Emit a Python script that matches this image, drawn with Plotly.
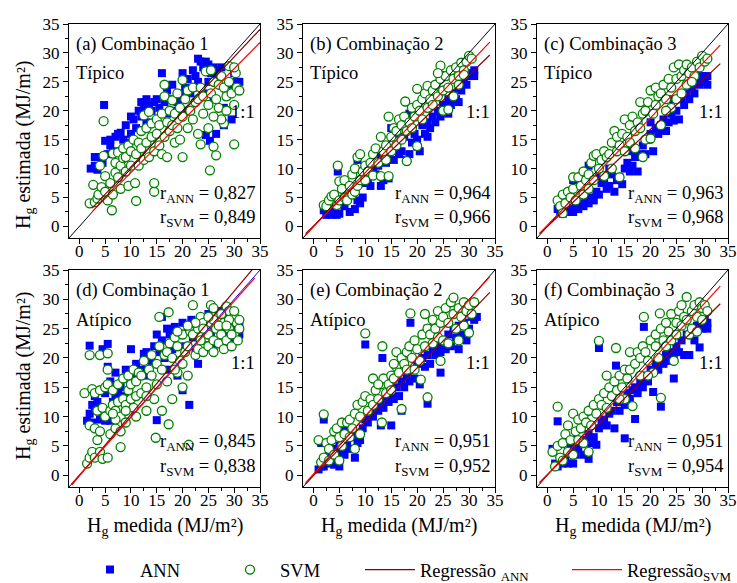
import plotly.graph_objects as go

# ---------------- data ----------------
panel_labels = ["(a) Combinação 1", "(b) Combinação 2", "(c) Combinação 3",
                "(d) Combinação 1", "(e) Combinação 2", "(f) Combinação 3"]
panel_types = ["Típico", "Típico", "Típico", "Atípico", "Atípico", "Atípico"]
r_ann = ["0,827", "0,964", "0,963", "0,845", "0,951", "0,951"]
r_svm = ["0,849", "0,966", "0,968", "0,838", "0,952", "0,954"]

ann_a = [(2.2,10),(3,10.5),(3.5,9.8),(4,12),(4.5,11),(4.8,21),(5,14.8),(5.5,12.5),(6,14),(6.5,13),
         (7,15.5),(7.5,16),(8,16.2),(8,13),(8.5,15),(9,17.5),(9.5,14.5),(10,19),(10,16),(10.5,18.5),
         (11,17),(11.5,20),(12,21.5),(12,19),(12.5,20.5),(13,22),(13,18),(13.5,21),(14,20),(14.5,21.5),
         (15,18),(15,22),(15.5,20.5),(16,26.5),(16.5,21.5),(17,23.5),(17,19.5),(17.5,22),(18,24.5),(18.5,20),
         (19,21.5),(19.5,23),(20,26.5),(20,22),(20.5,24),(21,25.5),(21,20),(21.5,23),(22,24),(22,27),
         (22.5,26),(23,29),(23,25),(23.5,28.5),(24,27.5),(24,23),(24.5,28.5),(25,28),(25,25),(25.5,26.5),
         (26,27.5),(26,22),(26.5,26.5),(26.5,16),(27,25.5),(27,27),(27.5,27.5),(28,17.5),(28,20.5),(28.5,22.5),
         (29,24.5),(29.5,18.5),(30,26.5),(30,27),(30.5,25),(31,25),(24.5,15.8),(25.3,14.8),(3,12),(6,15)]
svm_a = [(2,4),(2.7,7.2),(3,4.2),(3.5,4.8),(3.7,5.5),(4,10.5),(4.3,6.8),(4.7,12.2),(4.7,18.2),(5,8.7),
         (5,6),(5.5,4.5),(6,7.5),(6.3,2.8),(6.5,12.6),(6.5,5.5),(7,9.3),(7,11),(7.5,8.5),(7.5,12.8),
         (8,10.5),(8,6.5),(8.5,11.8),(8.5,13.5),(9,9.5),(9,12),(9.5,14),(9.5,7),(10,13),(10,10.5),
         (10.5,15),(10.8,7.5),(11,4.4),(11,12.5),(11.5,14.5),(11.5,10.5),(12,16.5),(12,13.5),(12.5,19.2),(12.5,11.5),
         (13,17),(13,14.5),(13.5,19.8),(13.5,12),(14,15.5),(14,17.8),(14.5,6),(14.5,7.5),(14.5,13),(15,16),
         (15,18.5),(15.5,14),(15.5,17.5),(16,19.5),(16,12.5),(16.5,24.5),(16.5,22.5),(16.5,15.5),(17,18),(17,12),
         (17.5,20),(17.5,16.5),(18,21.8),(18,17.5),(18.5,14.5),(18.5,19.5),(19,23),(19,17),(19.5,20.5),(19.5,15),
         (20,25.3),(20,12),(20,19),(20.5,22),(21,23.5),(21,17),(21.5,20),(22,24),(22,18.5),(22.5,21.5),
         (23,22),(23,16),(23.5,14.2),(23.5,24),(24,22.5),(24,19.5),(24.5,26.8),(25,21),(25,17),(25.3,9.7),
         (25.5,23),(25.5,27),(26,25),(26,13.8),(26.5,22),(26.5,12.3),(27,24.5),(27,20.5),(27.5,26),(28,24),
         (28,17.8),(28.5,22.5),(29,27.7),(29,25),(29.5,23),(30,14.2),(30,21),(30.3,26.5),(30.5,24),(31,23.5),
         (30,27.5),(27.5,18.5),(26,19),(28.5,20)]

ann_b = [(2,2.8),(2.5,2),(3,2.3),(3.5,2),(4,2.5),(4.5,2),(4.7,9.5),(5,2.2),(5.5,4),(6,3.5),
         (6.5,5),(7,2.5),(7.5,5.5),(8,3),(8.5,4.5),(9,4),(9.5,5),(8.5,11.5),(10,7.5),(10.5,8),
         (11,7),(11.5,10),(12,9),(12.5,10.5),(13,7),(13.5,8),(14,11),(14.5,8.3),(14.5,12.5),(15,17),
         (15.5,11.5),(16,14),(16.5,12.5),(17,13),(17.5,15.5),(18,11.5),(18.5,12.5),(18.5,19.5),(19,14.5),(19.5,16),
         (20,15),(20.5,13),(21,17.5),(21.5,16),(22,18),(22.5,17),(23,19),(23.5,18),(24,20),(24.5,26.2),
         (24.5,19),(25,21),(25.5,20),(26,22),(26.5,21),(27,23),(27.5,22),(28,24),(28.5,23.5),(29,25),
         (29.5,24.5),(30,26),(30.5,26.5),(31,27),(31,26),(16,16),(13,12),(10.5,9.5),(22,15.5),(26,19.5),
         (28,21.5),(20,13.8)]
svm_b = [(2,3.7),(2.5,3.5),(3,4.5),(3.5,5.2),(4,5.5),(4.5,3.7),(4.7,10.5),(5,7.8),(5,4.5),(5.5,6.5),
         (6,8),(6,5),(6.5,4.5),(7,7),(7.5,9),(7.5,5.5),(8,6),(8,10),(8.5,12),(8.5,7),
         (9,12.5),(9,8),(9.5,9.5),(10,10.5),(10,8),(10.5,9.5),(11,11),(11.5,12.5),(11.5,8.8),(12,13.5),
         (12.5,11),(13,8.7),(13,15.5),(13.5,13),(14,14),(14,11.5),(14.5,19),(14.5,8.7),(15,15.5),(15,13),
         (15.5,17),(16,16.5),(16,14),(16.5,18.5),(17,15),(17,17.5),(17.5,19),(17.7,21.6),(18,11.3),(18,16.5),
         (18.5,18),(19,20.5),(19,17),(19.5,19),(20,23.8),(20,13.9),(20,21),(20.5,20),(21,22),(21,18.5),
         (21.5,23),(22,24.3),(22,20.5),(22.5,22),(23,23.5),(23,21),(23.5,24.5),(24,22.5),(24.5,27.8),(24.5,25.5),
         (25,23.5),(25,20),(25.5,26),(26,24),(26,20.2),(26.5,27),(27,25.5),(27,22.5),(27.5,27.5),(28,26),
         (28.5,28.3),(29,27),(29.5,28.5),(30,29.5),(30.5,29),(29,26.2),(28,24.5),(24,26.5)]

ann_c = [(2,3),(2.5,2.5),(3,2.2),(3.5,3),(4,2.5),(4.5,3),(5,2.5),(5,8),(5.5,3.5),(6,3),
         (6.5,4),(7,3.5),(7.5,4.5),(8,4),(8,10.5),(8.5,5),(9,4.5),(9.5,6),(10,5.5),(10.5,7.5),
         (11,8),(11.5,6.5),(12,7),(12.5,9),(13,6),(13.5,8),(14,8.5),(14.5,7.3),(15,10),(15.5,11),
         (16,9.5),(16.5,10.5),(17,12),(17.5,9.5),(18,12.5),(18.5,14),(19,12.5),(19.5,15),(20,16),(20.5,13),
         (21,17),(21.5,16),(22,17.5),(22.5,18.5),(23,16.5),(23.5,18),(24,19.5),(24.5,18.3),(25,20),(25.5,18.5),
         (26,22),(26.5,21),(27,23),(27.5,22),(28,24),(28.5,23),(29,25),(29.5,24.5),(30,26),(30.5,25),
         (31,26),(31,24.5),(12,10),(16,13),(20,18),(24,22),(28,26),(10,8.5)]
svm_c = [(2,4.5),(2.5,3.5),(3,2.3),(3,5.5),(3.5,4),(4,6),(4.5,5),(5,8.5),(5,6.5),(5.5,4.5),
         (6,8.5),(6.5,7),(7,5.5),(7,9.5),(7.5,8),(8,9),(8,6.5),(8.5,11),(9,12.2),(9,8),
         (9.5,12.5),(10,10),(10.5,11.5),(11,8.7),(11,13),(11.5,12),(12,12.5),(12.5,10),(12.5,14.5),(13,16.5),
         (13.5,13),(13.5,15.5),(14,8.5),(14,14),(14.5,16),(15,18.5),(15,13),(15.5,15.5),(16,17.5),(16,14.5),
         (16.5,19),(17,16.5),(17.5,18),(18,21.5),(18,17),(18.5,12),(18.5,19.5),(19,20),(19,15),(19.5,21.5),
         (20,23.5),(20,15.2),(20.5,19.5),(21,24),(21,21),(21.5,22.5),(22,23),(22,17.5),(22.5,24.5),(23,22),
         (23.5,25.5),(24,24),(24,20.5),(24.5,27.5),(25,25.5),(25,22),(25.5,28),(26,26),(26,23),(26.5,27),
         (27,24.5),(27,28),(27.5,26.5),(28,27.5),(28.5,26),(29,28.5),(29.5,27.5),(30,29.5),(30.5,28.5),(31,29),
         (28,25),(23,20),(17,13.5)]

ann_d = [(1.5,9.3),(2,22.1),(2,10.5),(2.5,9),(2.5,12),(3,11),(3,13.5),(3.5,12.5),(4,9.5),(4,11.5),
         (4.5,21.5),(4.5,10),(5,14),(5,9.3),(5.5,22.4),(5.5,18.5),(6,9.3),(6,16),(6.5,12.5),(7,13),
         (7,17.5),(7.5,14),(8,15),(8.5,16.5),(9,18),(9,13.5),(10,21.5),(10,16),(11,17),(11,19),
         (12,18),(12.5,20.7),(13,17),(13,21),(14,19.5),(14.5,22),(15,24),(15,9.4),(15.5,21),(16,27),
         (16,23),(16.5,20),(17,25),(17.3,18),(17.5,24),(18,21.5),(18.5,25.3),(19,17),(19.5,24),(20,14.5),
         (20,26),(20.5,22),(21,25),(21.3,12),(21.7,26.5),(22,23.5),(22.5,21),(23,25.5),(23,19),(24,26),
         (24.5,23),(25,27.5),(25.5,24),(26,25.5),(26.5,22.5),(27,28),(27.5,26),(28,24.5),(28.5,27),(29,27.5),
         (29.5,23),(30,25),(30.5,26.5),(31,26),(31,24),(28,22),(26,21.5)]
svm_d = [(1,14),(1.5,2),(2,3),(2,20.5),(2,8.5),(2.5,14.7),(2.5,4),(3,14),(3,8),(3,3),
         (3.5,6),(3.5,11),(4,14.5),(4,20.5),(4,4),(4,7.5),(4.5,11.5),(4.5,2.8),(5,10),(5,15),
         (5.5,15.5),(5.5,20.8),(5.5,18),(5.5,3),(6,11),(6,7),(6.5,12),(6.5,14.5),(7,11),(7,8),
         (7.5,12.5),(7.5,15.5),(8,10),(8,4.8),(8,7.5),(8.5,13),(8.5,16.5),(9,12),(9,9),(9.5,14.5),
         (9.5,17),(10,13),(10,15.5),(10.5,11.5),(10.5,18),(11,16),(11,13.5),(11.5,17.5),(12,17),(12,14),
         (12.5,19.5),(13,15),(13,11),(13.5,18),(14,17),(14,20.5),(14.5,13),(14.8,6.4),(15,19),(15,15.5),
         (15.5,27),(15.5,22),(16,18),(16,11),(16.5,20.5),(17,21),(17,16),(17.3,27.8),(17.3,8.7),(17.5,22.5),
         (18,20),(18,13),(18.5,23.5),(19,22),(19,17.5),(19.5,19.5),(20,24),(20,15),(20.5,21),(21,22),
         (21,17),(21.2,5.2),(21.5,24.5),(22,29),(22,24),(22.5,20.5),(23,25),(23,21.5),(23.5,27),(24,26),
         (24,21),(24.5,23.5),(25,24),(25,22),(25.5,29),(25.5,26),(26,28.5),(26,23),(26.5,25),(27,27),
         (27,22.5),(27.5,24),(28,26),(28,21.5),(28.5,28.8),(28.5,23),(29,28),(29,25),(29.5,22),(30,27),
         (30,24),(30.5,26),(30.7,23),(31,25),(26,21),(23.5,23),(20,19),(18.5,18),(13,13.5),(11,10),
         (9,11),(7,9.5),(6.5,10.5),(24,25),(26,26.5),(27,25.5),(29,26.5),(30,28),(31,26.5),(28.5,25.5),
         (25,27),(22.5,26),(21,25.5),(19,24.5),(27.5,27.5),(29.5,24)]

ann_e = [(1,1),(1.5,1.5),(1.5,5.5),(2,1.5),(2,9.5),(2.5,3),(3,2),(3,4),(3.5,2.5),(4,1.8),
         (4,4.5),(4.5,3),(5,1.5),(5,5),(5.5,4),(6,3.5),(6,8),(6.5,5),(7,4.5),(7.5,6.5),
         (8,3),(8,7),(8.5,5.5),(9,6),(9.5,8),(10,22.3),(10,9.5),(10.5,9),(11,10.5),(11.5,10),
         (12,12),(12.5,11),(13,8.5),(13,12.5),(13.3,20),(13.5,11.5),(14,13.5),(14.5,12.5),(15,8.5),(15,14),
         (15.5,13),(16,15),(16.5,13.5),(17,11),(17,16),(17.5,15),(18,17),(18.5,16),(18.7,26),(19,18),
         (19.5,16.5),(20,19),(20.5,15.5),(21,20),(21.5,18.5),(22,12.2),(22,25),(22,20.5),(22.5,19),(23,21.5),
         (23.5,20.5),(24,22),(24.5,17.5),(24.5,21),(25,23),(25.5,21.5),(26,24),(26.5,22),(27,25),(27.5,23.5),
         (28,21.5),(28,25.5),(28.5,24),(29,26),(29.5,23),(30,25),(30.5,27),(31,26.5),(31.5,27)]
svm_e = [(1,6),(1.5,2.2),(2,10.4),(2,3),(2.5,5.5),(3,4.5),(3,2.5),(3.5,6),(4,3.5),(4,7.5),
         (4.5,8),(5,2.5),(5,6.5),(5.5,9),(5.5,5),(6,7),(6.5,9),(7,6.5),(7,9.5),(7.5,8),
         (8,4.5),(8,10.5),(8.5,12),(9,10),(9,7),(9.5,12.5),(10,24.2),(10,13.5),(10.5,11),(11,13),
         (11.5,16.5),(11.5,12),(12,14.5),(12.5,13),(13,15.5),(13.2,9),(13.3,22),(13.5,16.5),(14,14),(14.5,15.5),
         (15,17),(15,14.5),(15.5,16.5),(16,18.5),(16,21),(16.5,17.5),(17,11.3),(17,20),(17.5,19),(18,21),
         (18,18),(18.5,22),(18.7,27.6),(19,20),(19.5,23),(20,21.5),(20.5,19.5),(20.7,16.3),(21,24),(21.5,27.5),
         (21.5,22),(22,13.3),(22,25),(22.5,24),(23,26.5),(23,22.5),(23.5,25),(24,28),(24,23.5),(24.5,19.5),
         (24.5,26),(25,27),(25,23),(25.5,28.5),(26,26),(26,22.5),(26.5,29.5),(27,27.5),(27,30.3),(27.5,25),
         (28,28.5),(28,23),(28.5,27),(29,29.5),(29,25.5),(29.5,28),(30,29),(30,24.3),(30.5,27.5),(31,29.5),
         (19.5,18),(15.5,19),(12.5,15.5)]

ann_f = [(1,4.5),(1.5,2),(2,9.2),(2,1.5),(2.5,3),(3,2),(3.5,2.5),(4,4),(4,2),(4.5,5),
         (5,2),(5,6),(5.5,3.5),(6,4.5),(6.5,5.5),(7,3.5),(7.5,6),(8,2.8),(8,7),(8.5,5.5),
         (9,6.5),(9.5,5.2),(10,21.7),(10,8),(10.5,9),(11,9.5),(11.5,8.5),(12,10.5),(12.5,11),(13,8),
         (13.3,18.7),(13.5,12.5),(14,11),(14.5,13),(15,6.3),(15,12),(15.5,14),(16,13),(16.5,14.5),(17,9.6),
         (17,15),(17.5,14),(18,16),(18.5,15),(18.7,25.3),(19,17),(19.5,16),(20,18),(20.5,14.2),(21,19),
         (21.5,18),(22,11.7),(22,20),(22.5,19),(23,20.5),(23.5,19.5),(24,21),(24.5,16.5),(24.5,20),(25,22),
         (25.5,21),(26,23),(26.5,20.5),(27,24),(27.5,20.5),(28,25),(28.5,23),(29,25.5),(29.5,21.8),(30,25),
         (30.5,26.5),(31,26),(31,25)]
svm_f = [(1,4),(1.5,1.5),(2,11.7),(2,5),(2.5,3),(3,5.5),(3,2.5),(3.5,7),(4,4),(4,8.5),
         (4.5,6),(5,10.5),(5,3.5),(5.5,7.5),(6,6),(6,9.5),(6.5,8),(7,10),(7,5.5),(7.5,9),
         (8,4),(8,11),(8.5,8.5),(9,12),(9.5,10.5),(10,22.9),(10,13),(10.5,12),(11,14),(11.5,17),
         (11.5,11.5),(12,15),(12.5,13.5),(13,16),(13.3,21.7),(13.5,14.5),(14,17),(14.5,15),(15,18),(15,13),
         (15.5,16.5),(16,21),(16,18),(16.5,11.8),(17,19),(17.5,21),(18,20),(18,17),(18.5,22),(18.7,27),
         (19,21),(19.5,19.5),(20,23),(20.5,17.5),(21,24),(21,22),(21.5,20),(21.8,27.6),(22,13.2),(22,25),
         (22.5,23),(23,26),(23,22),(23.5,24.5),(24,27.5),(24,23),(24.5,19.5),(25,26),(25,24),(25.5,28),
         (26,25.5),(26,29),(26.5,27),(27,30.4),(27,26.5),(27.5,24),(28,28),(28,25),(28.5,29),(29,27),
         (29,24.5),(29.5,29.5),(30,28.5),(30,26.5),(30.5,29),(31,28),(19.5,17),(14,13)]

# regression lines: (slope, intercept) and x extent of the drawn line
reg_ann = [(0.95, 0.8), (0.87, 0.06), (0.84, 0.0), (1.05, -0.1), (0.92, -0.1), (0.87, 0.1)]
reg_svm = [(0.90, 0.3), (0.94, -0.1), (0.93, 0.2), (0.99, 0.0), (0.99, 0.2), (0.96, 0.1)]
reg_span = [(2.5, 35.0), (-1.5, 34.0), (-1.5, 33.5), (-1.5, 34.0), (-1.5, 34.0), (-1.5, 33.5)]
line_11 = [-2, 35]
ticks = [0, 5, 10, 15, 20, 25, 30, 35]

ann_all = [ann_a, ann_b, ann_c, ann_d, ann_e, ann_f]
svm_all = [svm_a, svm_b, svm_c, svm_d, svm_e, svm_f]

# ---------------- figure ----------------
W, H = 737, 583
FONT = "Liberation Serif, Times New Roman, Times, serif"
xd = [(69, 260), (303, 495), (537, 728)]
yd = [(24, 238), (270, 487)]
one_to_one_colors = ["black", "black", "black", "blue", "black", "black"]

fig = go.Figure()
layout = {}
annotations = []
for i in range(6):
    r, c = divmod(i, 3)
    sfx = "" if i == 0 else str(i + 1)
    xa, ya = "x" + sfx, "y" + sfx
    axis_common = dict(range=[-2, 35], tickvals=ticks, ticks="outside", ticklen=5,
                       tickwidth=1, tickcolor="black", showline=True, linecolor="black",
                       linewidth=1, mirror=True, showgrid=False, zeroline=False,
                       tickfont=dict(family=FONT, size=17, color="black"),
                       minor=dict(dtick=2.5, tick0=0, ticks="outside", ticklen=3,
                                  tickcolor="black", showgrid=False))
    layout["xaxis" + sfx] = dict(domain=[xd[c][0] / W, xd[c][1] / W], anchor=ya,
                                 ticklabelstandoff=-7, **axis_common)
    layout["yaxis" + sfx] = dict(domain=[1 - yd[r][1] / H, 1 - yd[r][0] / H], anchor=xa,
                                 **axis_common)

    first = (i == 0)
    fig.add_trace(go.Scatter(
        x=[p[0] for p in ann_all[i]], y=[p[1] for p in ann_all[i]], mode="markers",
        marker=dict(symbol="square", size=8, color="#0000FF", line=dict(width=0)),
        name="ANN", legend="legend", showlegend=first, xaxis=xa, yaxis=ya))
    fig.add_trace(go.Scatter(
        x=[p[0] for p in svm_all[i]], y=[p[1] for p in svm_all[i]], mode="markers",
        marker=dict(symbol="circle", size=9, color="white", line=dict(width=1.3, color="#008000")),
        name="SVM", legend="legend2", showlegend=first, xaxis=xa, yaxis=ya))
    fig.add_trace(go.Scatter(
        x=line_11, y=line_11, mode="lines", line=dict(color=one_to_one_colors[i], width=1),
        showlegend=False, xaxis=xa, yaxis=ya, hoverinfo="skip"))
    x0, x1 = reg_span[i]
    ma, ba = reg_ann[i]
    ms, bs = reg_svm[i]
    fig.add_trace(go.Scatter(
        x=[x0, x1], y=[ma * x0 + ba, ma * x1 + ba], mode="lines",
        line=dict(color="#8B0000", width=1.2), name="Regressão <sub>ANN</sub>",
        legend="legend3", showlegend=first, xaxis=xa, yaxis=ya))
    fig.add_trace(go.Scatter(
        x=[x0, x1], y=[ms * x0 + bs, ms * x1 + bs], mode="lines",
        line=dict(color="#FF0000", width=1.2), name="Regressão<sub>SVM</sub>",
        legend="legend4", showlegend=first, xaxis=xa, yaxis=ya))

    xr, yr = xa + " domain", ya + " domain"
    tf = dict(family=FONT, size=18.5, color="black")
    annotations += [
        dict(text=panel_labels[i], x=0.025, y=0.905, xref=xr, yref=yr, xanchor="left",
             yanchor="middle", showarrow=False, font=tf),
        dict(text=panel_types[i], x=0.025, y=0.77, xref=xr, yref=yr, xanchor="left",
             yanchor="middle", showarrow=False, font=tf),
        dict(text="1:1", x=0.985, y=0.59 if r == 0 else 0.57, xref=xr, yref=yr, xanchor="right",
             yanchor="middle", showarrow=False, font=tf),
        dict(text="r<sub>ANN</sub> = " + r_ann[i], x=0.99, y=0.205, xref=xr, yref=yr,
             xanchor="right", yanchor="middle", showarrow=False, font=tf),
        dict(text="r<sub>SVM</sub> = " + r_svm[i], x=0.99, y=0.09, xref=xr, yref=yr,
             xanchor="right", yanchor="middle", showarrow=False, font=tf),
    ]

title_font = dict(family=FONT, size=20, color="black")
for yc in (145, 376):
    annotations.append(dict(text="H<sub>g</sub> estimada (MJ/m²)", x=24 / W, y=1 - yc / H,
                            xref="paper", yref="paper", textangle=-90, showarrow=False,
                            xanchor="center", yanchor="middle", font=title_font))
for c in range(3):
    xc = (xd[c][0] + xd[c][1]) / 2
    annotations.append(dict(text="H<sub>g</sub> medida (MJ/m²)", x=xc / W, y=1 - 526 / H,
                            xref="paper", yref="paper", showarrow=False,
                            xanchor="center", yanchor="middle", font=title_font))

leg_common = dict(orientation="h", font=dict(family=FONT, size=18.5, color="black"),
                  bgcolor="rgba(0,0,0,0)", xanchor="left", yanchor="middle",
                  y=1 - 570 / H, itemwidth=50)
layout["legend"] = dict(x=80 / W, **leg_common)
layout["legend2"] = dict(x=220 / W, **leg_common)
layout["legend3"] = dict(x=360 / W, **leg_common)
layout["legend4"] = dict(x=567 / W, **leg_common)

fig.update_layout(width=W, height=H,
                  margin=dict(l=0, r=0, t=0, b=0, pad=0, autoexpand=False),
                  paper_bgcolor="white", plot_bgcolor="white",
                  font=dict(family=FONT),
                  annotations=annotations, **layout)
fig.write_html("out.html", config={"displayModeBar": False},
               post_script="document.body.style.margin='0';document.body.style.overflow='hidden';")
